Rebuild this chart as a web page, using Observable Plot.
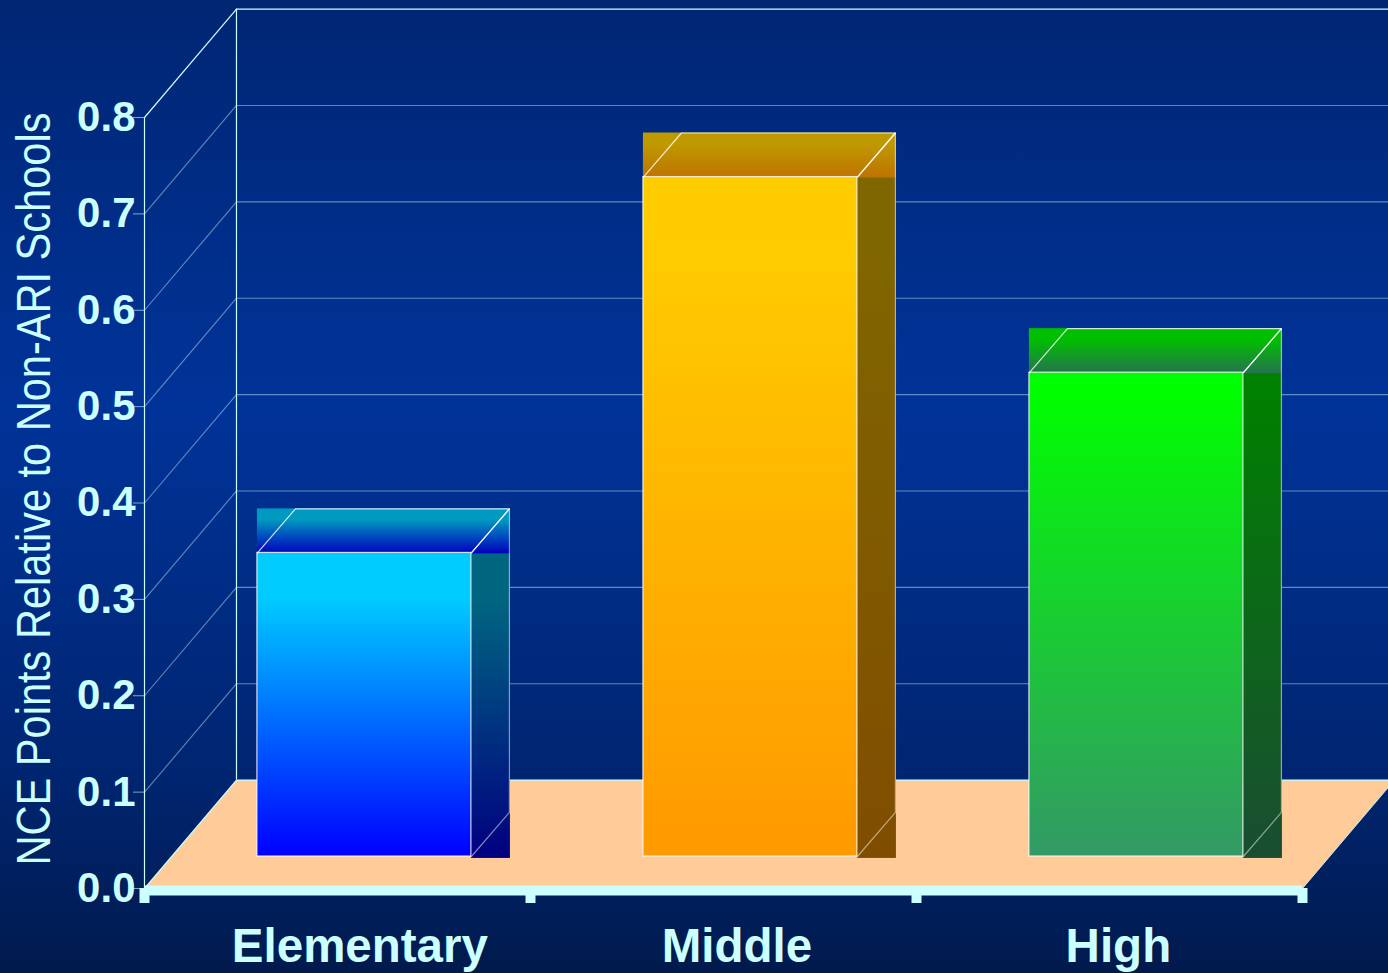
<!DOCTYPE html>
<html>
<head>
<meta charset="utf-8">
<script src="https://cdn.jsdelivr.net/npm/d3@7"></script>
<script src="https://cdn.jsdelivr.net/npm/@observablehq/plot@0.6"></script>
<style>
html,body{margin:0;padding:0;background:#001a4d;overflow:hidden}
svg{display:block}
</style>
</head>
<body>
<div id="chart"></div>
<script>
const categories = ["Elementary", "Middle", "High"];
const values = [0.315, 0.705, 0.502];
const labelSlots = [0.558, 1.535, 2.523];
const yTicks = [0, 0.1, 0.2, 0.3, 0.4, 0.5, 0.6, 0.7, 0.8];
const xTicks = [0, 1, 2, 3];
const yTitle = "NCE Points Relative to Non-ARI Schools";

const frontTop = ["#00ccff", "#ffcc00", "#00ff00"];
const frontBottom = ["#0000ff", "#ff9900", "#339966"];
const capTop = ["#0099bf", "#bf9900", "#00bf00"];
const capBottom = ["#0000bf", "#bf7300", "#267350"];
const sideTop = ["#006680", "#806600", "#008000"];
const sideBottom = ["#000080", "#804d00", "#1a4d33"];
const gradientHold = [0.15, 0.1, 0.03];

const ink = "#ccffff";

// depth of the 3-D box, in scale units
const wallX = 0.2383, wallY = 0.1125;
const barInset = 0.2925, barWidth = 0.5544;
const barLift = 0.0332, barDepthX = 0.0985, barDepthY = 0.0457;

const bars = categories.map((name, i) => {
  const l = i + barInset, r = l + barWidth, b = barLift, t = values[i] + barLift;
  return {name, i, l, r, b, t, R: r + barDepthX, T: t + barDepthY, B: b + barDepthY};
});

function gradients() {
  const defs = d3.create("svg:defs");
  const add = (id, a, b, hold) => {
    const g = defs.append("linearGradient").attr("id", id)
      .attr("x1", 0).attr("y1", 0).attr("x2", 0).attr("y2", 1);
    g.append("stop").attr("offset", hold).attr("stop-color", a);
    g.append("stop").attr("offset", 1).attr("stop-color", b);
  };
  categories.forEach((_, i) => {
    add("front" + i, frontTop[i], frontBottom[i], gradientHold[i]);
    add("cap" + i, capTop[i], capBottom[i], 0.25);
    add("side" + i, sideTop[i], sideBottom[i], gradientHold[i]);
  });
  return defs.node();
}

const floor = [
  {x: 0, y: 0}, {x: wallX, y: wallY}, {x: 3 + wallX, y: wallY}, {x: 3, y: 0}
];

const barMarks = bars.flatMap(d => {
  const one = [d];
  return [
    Plot.rect(one, {x1: d => d.r, x2: d => d.R + 0.0026, y1: d => d.b - 0.002, y2: d => d.t, fill: `url(#side${d.i})`}),
    Plot.rect(one, {x1: d => d.l, x2: d => d.R + 0.0026, y1: d => d.t - 0.001, y2: d => d.T, fill: `url(#cap${d.i})`}),
    Plot.rect(one, {x1: d => d.l, x2: d => d.r, y1: d => d.b, y2: d => d.t, fill: `url(#front${d.i})`, stroke: "#fff", strokeWidth: 1.2, strokeOpacity: 0.8}),
    Plot.line([{x: d.l, y: d.t}, {x: d.l + barDepthX, y: d.T}, {x: d.R, y: d.T}, {x: d.r, y: d.t}], {x: "x", y: "y", stroke: "#fff", strokeWidth: 1.2, strokeOpacity: 0.8}),
    Plot.line([{x: d.R, y: d.T}, {x: d.R, y: d.B}, {x: d.r, y: d.b}], {x: "x", y: "y", stroke: "#fff", strokeWidth: 1.2, strokeOpacity: 0.5, curve: "linear"}),
    Plot.link([d], {x1: d => d.r, y1: d => d.t, x2: d => d.R, y2: d => d.T, stroke: "#fff", strokeWidth: 1.2, strokeOpacity: 0.8})
  ];
});

const plot = Plot.plot({
  width: 1388,
  height: 973,
  marginLeft: 144,
  marginRight: 86,
  marginTop: 117,
  marginBottom: 85,
  style: {
    fontFamily: "'Liberation Sans', Arial, sans-serif",
    background: "linear-gradient(180deg,#002673 0%,#003399 42%,#002570 80%,#001a4d 100%)"
  },
  x: {type: "linear", domain: [0, 3], axis: null},
  y: {type: "linear", domain: [0, 0.8], axis: null},
  marks: [
    gradients,
    Plot.line(floor, {x: "x", y: "y", fill: "#ffcc99", stroke: "none"}),
    // back wall gridlines
    Plot.ruleY(yTicks.slice(1, -1), {x1: wallX, x2: 3 + wallX, y: d => d + wallY, stroke: ink, strokeOpacity: 0.45, strokeWidth: 1.1}),
    Plot.ruleY([0, 0.8], {x1: wallX, x2: 3 + wallX, y: d => d + wallY, stroke: ink, strokeWidth: 1.2}),
    // side wall diagonals
    Plot.link(yTicks.slice(1, -1), {x1: 0, y1: d => d, x2: wallX, y2: d => d + wallY, stroke: ink, strokeOpacity: 0.45, strokeWidth: 1.1}),
    Plot.link([0, 0.8], {x1: 0, y1: d => d, x2: wallX, y2: d => d + wallY, stroke: ink, strokeWidth: 1.2}),
    Plot.ruleX([wallX], {y1: wallY, y2: 0.8 + wallY, stroke: ink, strokeWidth: 1.2}),
    Plot.ruleX([0], {y1: 0, y2: 0.8, stroke: ink, strokeWidth: 1.2}),
    Plot.link([0], {x1: 3, y1: 0, x2: 3 + wallX, y2: wallY, stroke: ink, strokeOpacity: 0.8, strokeWidth: 1}),
    // y axis
    Plot.axisY(yTicks, {
      anchor: "left", tickFormat: d3.format(".1f"), tickSize: 11, tickPadding: -2,
      fontSize: 42, fontWeight: "bold", color: ink, strokeOpacity: 0.6, label: null
    }),
    Plot.text([yTitle], {
      text: d => d, x: 0, y: 0.4, dx: -110, dy: -14, rotate: -90,
      fontSize: 49, fill: ink, textAnchor: "middle", lineAnchor: "middle",
      className: "ytitle"
    }),
    ...barMarks,
    // floor front edge and slot ticks
    Plot.ruleY([0], {x1: 0, x2: 3, dy: 2, stroke: ink, strokeWidth: 10}),
    Plot.axisX(xTicks, {anchor: "bottom", tickSize: 15, strokeWidth: 10, color: ink, tickFormat: () => "", label: null}),
    Plot.text(categories, {
      text: d => d, x: (d, i) => labelSlots[i], y: 0, dy: 58,
      fontSize: 47.5, fontWeight: "bold", fill: ink, textAnchor: "middle"
    })
  ]
});

document.getElementById("chart").appendChild(plot);

// the reference's axis title is a condensed face: squeeze it to the same run length
d3.select(plot).selectAll("text").filter(function () { return this.textContent === yTitle; }).each(function () {
  const k = 753 / this.getComputedTextLength();
  const t = this.getAttribute("transform") || "";
  this.setAttribute("transform", `${t} scale(${k},1)`);
});
</script>
</body>
</html>
